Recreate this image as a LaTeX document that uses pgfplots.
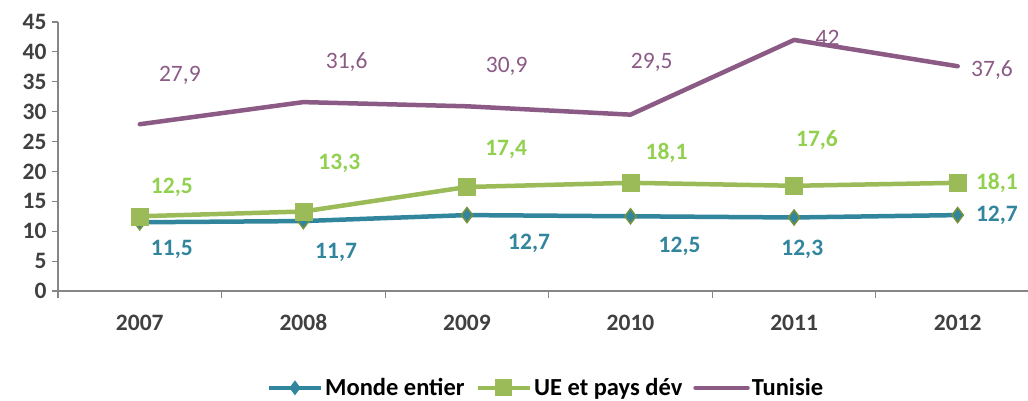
\documentclass[border=0pt]{standalone}
\usepackage{pgfplots}
\pgfplotsset{compat=1.18}
\usepackage{fontspec}
\setmainfont{Carlito}
\definecolor{cblue}{HTML}{31859C}
\definecolor{cgreen}{HTML}{9BBB59}
\definecolor{cgreenlab}{HTML}{92D050}
\definecolor{cpurple}{HTML}{8B5A85}
\definecolor{cedge}{HTML}{76923C}
\definecolor{caxis}{HTML}{868686}
\definecolor{ctext}{HTML}{404040}
\newcommand{\fs}{\fontsize{23.5}{27}\selectfont}
\begin{document}
\begin{tikzpicture}[x=1pt,y=1pt]
\useasboundingbox (0,0) rectangle (1028,400);
\begin{axis}[
  at={(58pt,109pt)}, anchor=south west, scale only axis,
  width=970pt, height=269pt,
  xmin=-0.5, xmax=5.43, ymin=0, ymax=45,
  axis x line*=bottom, axis y line*=left,
  axis line style={caxis, line width=1.2pt, -},
  xtick={0,...,5}, xticklabels={2007,2008,2009,2010,2011,2012},
  minor xtick={-0.5,0.5,1.5,2.5,3.5,4.5},
  major x tick style={draw=none},
  minor x tick style={caxis, line width=1.2pt},
  ytick={0,5,...,45},
  y tick style={caxis, line width=1.2pt},
  tick align=outside, major tick length=6pt, minor tick length=7pt,
  ticklabel style={font=\fs\bfseries, text=ctext},
  /pgf/number format/assume math mode=true,
  xticklabel style={anchor=base, yshift=-33pt},
  yticklabel style={xshift=-2pt},
  clip=false,
  legend columns=3,
  legend style={at={(0.503,-0.36)}, anchor=center, draw=none, fill=none,
    font=\fontsize{24.5}{28}\selectfont\bfseries, text=black,
    /tikz/every even column/.append style={column sep=9pt}},
  legend image code/.code={
    \draw[#1, mark=none] (0pt,0pt) -- (52pt,0pt);
    \draw[#1, draw opacity=0, line width=0pt] plot coordinates {(26pt,0pt)};
  },
]
\addplot[cblue, line width=4.5pt, mark=diamond*, mark size=7.5pt,
  mark options={fill=cblue, draw=cedge, line width=1.5pt}]
  coordinates {(0,11.5)(1,11.7)(2,12.7)(3,12.5)(4,12.3)(5,12.7)};
\addlegendentry{Monde entier}
\addplot[cgreen, line width=4.5pt, mark=square*, mark size=8.5pt,
  mark options={fill=cgreen, draw=cgreen, line width=0.5pt}]
  coordinates {(0,12.5)(1,13.3)(2,17.4)(3,18.1)(4,17.6)(5,18.1)};
\addlegendentry{UE et pays dév}
\addplot[cpurple, line width=4.5pt, mark=none, line cap=round, line join=round]
  coordinates {(0,27.9)(1,31.6)(2,30.9)(3,29.5)(4,42)(5,37.6)};
\addlegendentry{Tunisie}
% data labels
\begin{scope}[every node/.style={font=\fs}]
\node[text=cpurple] at (axis cs:0.245,36.1) {27,9};
\node[text=cpurple] at (axis cs:1.265,38.3) {31,6};
\node[text=cpurple] at (axis cs:2.243,37.5) {30,9};
\node[text=cpurple] at (axis cs:3.13,38.3) {29,5};
\node[text=cpurple] at (axis cs:4.205,42.3) {42};
\node[text=cpurple] at (axis cs:5.21,37.0) {37,6};
\end{scope}
\begin{scope}[every node/.style={font=\fs\bfseries}]
\node[text=cgreenlab] at (axis cs:0.196,17.4) {12,5};
\node[text=cgreenlab] at (axis cs:1.22,21.4) {13,3};
\node[text=cgreenlab] at (axis cs:2.24,23.6) {17,4};
\node[text=cgreenlab] at (axis cs:3.22,23.1) {18,1};
\node[text=cgreenlab] at (axis cs:4.14,25.3) {17,6};
\node[text=cgreenlab] at (axis cs:5.24,18.1) {18,1};
\node[text=cblue] at (axis cs:0.196,6.9) {11,5};
\node[text=cblue] at (axis cs:1.20,6.5) {11,7};
\node[text=cblue] at (axis cs:2.38,8.0) {12,7};
\node[text=cblue] at (axis cs:3.30,7.5) {12,5};
\node[text=cblue] at (axis cs:4.05,6.9) {12,3};
\node[text=cblue] at (axis cs:5.24,12.7) {12,7};
\end{scope}
\end{axis}
\end{tikzpicture}
\end{document}
